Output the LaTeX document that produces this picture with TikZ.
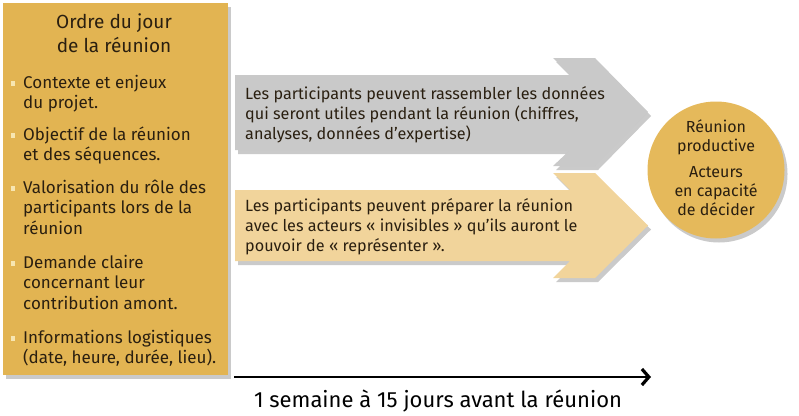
\documentclass[tikz,border=0pt]{standalone}
\usepackage{fontspec}
\setmainfont{Fira Sans}
\usetikzlibrary{arrows.meta,shadows}
\definecolor{agendagold}{HTML}{E2B452}
\definecolor{agendapale}{HTML}{F7E6B2}
\definecolor{greyarrow}{HTML}{C9C9C9}
\definecolor{tanarrow}{HTML}{F1D49B}
\definecolor{goalgold}{HTML}{E5B95B}
\definecolor{ink}{HTML}{2A1F10}
\tikzset{
    >=Stealth,
    softshadow/.style={drop shadow={shadow xshift=3pt,shadow yshift=-4pt,opacity=.35,fill=black!60}},
    agenda/.style={fill=agendagold,draw=none,softshadow,inner sep=0pt},
    title/.style={anchor=base,align=center,text=ink,inner sep=0pt,font=\fontsize{19}{24}\selectfont},
    item/.style={anchor=base west,align=left,text=ink,inner sep=0pt,font=\fontsize{17}{20.5}\selectfont},
    bullet/.style={fill=agendapale,draw=none,minimum width=4pt,minimum height=5pt,inner sep=0pt},
    stepgrey/.style={fill=greyarrow,draw=none,softshadow},
    steptan/.style={fill=tanarrow,draw=none,softshadow},
    steptext/.style={anchor=base west,align=left,text=ink,inner sep=0pt,font=\fontsize{16.2}{20}\selectfont},
    goal/.style={circle,fill=goalgold,draw=none,minimum size=137pt,inner sep=0pt,softshadow},
    goaltext/.style={anchor=base,align=center,text=ink,inner sep=0pt,font=\fontsize{16}{19}\selectfont},
    timeline/.style={draw=black,line width=2pt,-{Straight Barb[length=7pt,width=16pt,line width=3.2pt]}},
    timelabel/.style={anchor=base,text=black,inner sep=0pt,font=\fontsize{22}{24}\selectfont}
}
\begin{document}
\begin{tikzpicture}[x=1pt,y=-1pt]
    \useasboundingbox (0,0) rectangle (799,415);

    % agenda column (text nodes sit on their last baseline)
    \node[agenda,minimum width=225pt,minimum height=372pt,anchor=north west] (box) at (3,3) {};
    \node[title] (ttl) at (114,52) {Ordre du jour\\de la réunion};
    \node[bullet] (b1) at (13,83) {};
    \node[item] (i1) at (23,108.5) {Contexte et enjeux\\du projet.};
    \node[bullet] (b2) at (13,135) {};
    \node[item] (i2) at (23,160.5) {Objectif de la réunion\\et des séquences.};
    \node[bullet] (b3) at (13,188) {};
    \node[item] (i3) at (23,234) {Valorisation du rôle des\\participants lors de la\\réunion};
    \node[bullet] (b4) at (13,263) {};
    \node[item] (i4) at (23,309) {Demande claire\\concernant leur\\contribution amont.};
    \node[bullet] (b5) at (13,338) {};
    \node[item] (i5) at (23,363.5) {Informations logistiques\\(date, heure, durée, lieu).};

    % the two steps
    \path[stepgrey] (235,75) -- (570,75) -- (553,58) -- (595,58) -- (648,112)
        -- (595,166) -- (553,166) -- (570,150) -- (235,150) -- cycle;
    \node[steptext] (s1) at (245,139) {Les participants peuvent rassembler les données\\qui seront utiles pendant la réunion (chiffres,\\analyses, données d’expertise)};
    \path[steptan] (235,190) -- (570,190) -- (553,173) -- (595,173) -- (648,225.5)
        -- (595,278) -- (553,278) -- (570,261) -- (235,261) -- cycle;
    \node[steptext] (s2) at (245,251) {Les participants peuvent préparer la réunion\\avec les acteurs « invisibles » qu’ils auront le\\pouvoir de « représenter ».};

    % result
    \node[goal] (g) at (716,170) {};
    \node[goaltext] (g1) at (716,151) {Réunion\\productive};
    \node[goaltext] (g2) at (716,215) {Acteurs\\en capacité\\de décider};

    % time axis
    \coordinate (tstart) at (234,377);
    \coordinate (tend) at (651,377);
    \draw[timeline] (tstart) -- (tend);
    \node[timelabel] (tl) at (438,407) {1 semaine à 15 jours avant la réunion};
\end{tikzpicture}
\end{document}
